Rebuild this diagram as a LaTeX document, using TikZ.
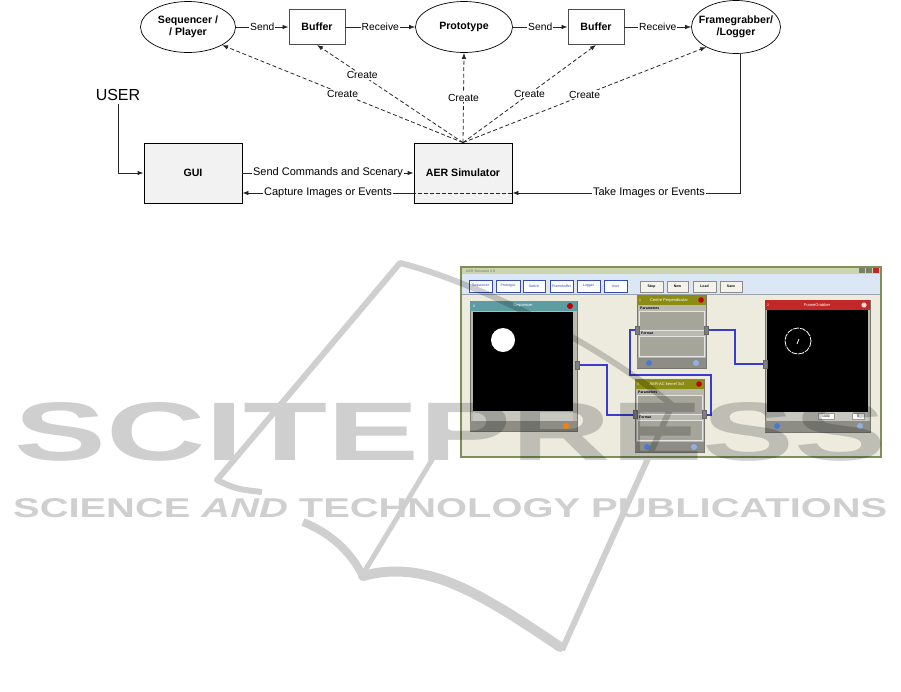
\documentclass[tikz,border=0pt]{standalone}
\usepackage{fontspec}
\setmainfont{Liberation Sans}
\usepackage[rgb]{xcolor}
\usepackage{graphicx}
\usepackage{tikz}
\usetikzlibrary{positioning,shapes.geometric,arrows.meta}

\definecolor{guigray}{HTML}{F2F2F2}
\definecolor{winframe}{HTML}{7E8F5C}
\definecolor{wintitle}{HTML}{CED4AE}
\definecolor{winbg}{HTML}{ECEBDE}
\definecolor{toolbar}{HTML}{DCE7F5}
\definecolor{btnblue}{HTML}{3A4BB0}
\definecolor{panelbody}{HTML}{B9B9B0}
\definecolor{panelframe}{HTML}{76766E}
\definecolor{panelbar}{HTML}{8D8D86}
\definecolor{seqteal}{HTML}{5C9CA2}
\definecolor{olivebar}{HTML}{8C8C12}
\definecolor{grabred}{HTML}{C22828}
\definecolor{wire}{HTML}{3C3CCC}
\definecolor{boxgray}{HTML}{A5A59A}
\definecolor{iconblue}{HTML}{4A7AD0}

\begin{document}
\begin{tikzpicture}[x=1pt, y=-1pt,
  proc/.style={ellipse, draw, line width=0.7pt, fill=white,
    minimum width=95pt, minimum height=51pt, inner xsep=-14pt, inner ysep=0pt,
    align=center, font=\bfseries\fontsize{10.6}{12}\selectfont},
  buf/.style={rectangle, draw=black!70, line width=0.9pt, fill=white,
    minimum width=56pt, minimum height=35pt,
    font=\bfseries\fontsize{10.6}{12}\selectfont},
  block/.style={rectangle, draw, line width=0.8pt, fill=guigray,
    minimum width=98pt, minimum height=60pt,
    font=\bfseries\fontsize{10.6}{12}\selectfont},
  flow/.style={-{Latex[length=6pt,width=4.5pt]}, line width=0.8pt, black!85},
  create/.style={flow, dash pattern=on 4pt off 2.5pt},
  lbl/.style={fill=white, inner sep=1pt, text=black, font=\fontsize{10.3}{11}\selectfont},
  biglbl/.style={lbl, font=\fontsize{11}{12}\selectfont},
  scrtxt/.style={inner sep=0pt, font=\fontsize{3.5}{4}\selectfont},
  panel/.style={fill=panelbody, draw=panelframe, line width=0.7pt},
  port/.style={fill=gray, draw=black!60, line width=0.3pt},
  wirecol/.style={wire, line width=1.2pt}]

\useasboundingbox (0,0) rectangle (901,691);

% top row: processes and buffers
\node[proc] (seq) at (188,27) {Sequencer /\\/ Player};
\node[buf] (bufa) at (317,27) {Buffer};
\node[proc, minimum width=97pt] (proto) at (464,27) {Prototype};
\node[buf] (bufb) at (596,27) {Buffer};
\node[proc, minimum width=89pt, minimum height=53pt] (fg) at (736,27) {Framegrabber/\\/Logger};

\draw[flow] (seq) -- node[lbl] {Send} (bufa);
\draw[flow] (bufa) -- node[lbl] {Receive} (proto);
\draw[flow] (proto) -- node[lbl] {Send} (bufb);
\draw[flow] (bufb) -- node[lbl] {Receive} (fg);

% bottom row
\node[font=\fontsize{16}{18}\selectfont] (user) at (118,95) {USER};
\node[block] (gui) at (193,173) {GUI};
\node[block] (aer) at (463,173) {AER Simulator};

\draw[flow] (user.south) |- (gui.west);
\draw[flow] (gui.east) -- node[biglbl] {Send Commands and Scenary} (aer.west);
\draw[flow] ([xshift=4pt]fg.south) |- node[biglbl, pos=0.7] {Take Images or Events}
  ([yshift=-20pt]aer.east);
\draw[black!85, line width=0.7pt, dash pattern=on 4pt off 2pt]
  ([yshift=-20pt]aer.east) -- ([yshift=-20pt]aer.west);
\draw[flow] ([yshift=-20pt]aer.west) -- node[biglbl] {Capture Images or Events}
  ([yshift=-20pt]gui.east);

% create arrows out of the simulator
\draw[create] (aer.north) -- node[lbl] {Create} (seq.-28);
\draw[create] (aer.north) -- node[lbl, pos=0.69] {Create} (bufa.south);
\draw[create] (aer.north) -- node[lbl] {Create} (proto.south);
\draw[create] (aer.north) -- node[lbl] {Create} (bufb.south);
\draw[create] (aer.north) -- node[lbl] {Create} (fg.214);

% screenshot of the simulator window
\draw[winframe, line width=1.2pt, fill=winbg] (461,267) rectangle (881,457);
\fill[wintitle] (461.6,267.6) rectangle (880.4,274);
\node[scrtxt, anchor=west, text=black!55] (wintxt) at (466,270.8) {AER Simulator 2.0};
\foreach \bx/\bc in {859/wintitle!60!black, 866/wintitle!60!black, 873/grabred}
  \fill[\bc] (\bx,268.4) rectangle ++(6,5);
\fill[toolbar] (461.6,274) rectangle (880.4,294);
\draw[toolbar!70!black] (461.6,294) -- (880.4,294);

\foreach \xa/\xb/\txt in {469/492/Sequencer, 496/520/Prototype, 523/545/Switch,
    550/573/Framebuffer, 577/600/Logger, 604/627/User}
  {
    \draw[btnblue, fill=white!90!toolbar, line width=0.8pt] (\xa,280) rectangle (\xb,292);
    \node[scrtxt, text=btnblue] at ({(\xa+\xb)/2},286) {\txt};
  }
\foreach \xa/\xb/\txt in {640/663/Stop, 667/688/New, 693/716/Load, 720/742/Save}
  {
    \draw[black!45, fill=winbg!60!white, line width=0.6pt] (\xa,281) rectangle (\xb,292);
    \node[scrtxt, font=\bfseries\fontsize{3.5}{4}\selectfont] at ({(\xa+\xb)/2},286.5) {\txt};
  }

% wires between the blocks
\draw[wirecol] (577,365) -- (607,365) -- (607,415) -- (635,415);
\draw[wirecol] (637,330) -- (630,330) -- (630,375) -- (711,375) -- (711,415) -- (704,415);
\draw[wirecol] (705,330) -- (735,330) -- (735,364) -- (765,364);

% sequencer block
\draw[panel] (470,301) rectangle (577,431);
\fill[seqteal] (470,301) rectangle (577,311);
\node[scrtxt, text=white] at (474,306) {0};
\node[scrtxt, text=white, font=\fontsize{4}{5}\selectfont] (seqtitle) at (523,306) {Sequencer};
\fill[red!75!black] (570,306) circle [radius=3];
\fill[black] (473,312) rectangle (573,411);
\fill[white] (503,340) circle [radius=12];
\fill[panelbody!80!white] (473,411) rectangle (573,421);
\fill[panelbar] (470.4,421) rectangle (576.6,430.6);
\fill[orange!85!brown] (566,426) circle [radius=3];
\draw[port] (575,361) rectangle (579,369);

% filter blocks
\foreach \px/\py/\ttl/\num in {637/295/Centre Perpendicular/1, 635/379/AER-AC kernel 3x3/3}
  {
    \draw[panel] (\px,\py) rectangle ({\px+69},{\py+73});
    \fill[olivebar] (\px,\py) rectangle ({\px+69},{\py+10});
    \node[scrtxt, text=white] at ({\px+3},{\py+5}) {\num};
    \node[scrtxt, text=white, font=\fontsize{4}{5}\selectfont] at ({\px+32},{\py+5}) {\ttl};
    \fill[red!75!black] ({\px+64},{\py+5}) circle [radius=2.8];
    \node[scrtxt, anchor=west, font=\bfseries\fontsize{3.5}{4}\selectfont] at ({\px+3},{\py+13}) {Parameters};
    \draw[boxgray, fill=boxgray, draw=white!80!gray] ({\px+2},{\py+16}) rectangle ({\px+67},{\py+35});
    \node[scrtxt, anchor=west, font=\bfseries\fontsize{3.5}{4}\selectfont] at ({\px+4},{\py+38.5}) {Format};
    \draw[boxgray, fill=boxgray, draw=white!80!gray] ({\px+2},{\py+41}) rectangle ({\px+67},{\py+61});
    \fill[panelbar] ({\px+0.4},{\py+63}) rectangle ({\px+68.6},{\py+72.6});
    \fill[iconblue] ({\px+12},{\py+68}) circle [radius=3];
    \fill[iconblue!60!white] ({\px+59},{\py+68}) circle [radius=3];
    \draw[port] ({\px-2},{\py+31}) rectangle ({\px+2},{\py+39});
    \draw[port] ({\px+67},{\py+31}) rectangle ({\px+71},{\py+39});
  }

% framegrabber block
\draw[panel] (765,300) rectangle (870,432);
\fill[grabred] (765,300) rectangle (870,310);
\node[scrtxt, text=white] at (768,305) {2};
\node[scrtxt, text=white, font=\fontsize{4}{5}\selectfont] (fgtitle) at (817,305) {FrameGrabber};
\fill[white!85!red] (864,305) circle [radius=2.6];
\fill[black] (767,310) rectangle (868,412);
\draw[white, line width=0.8pt, dash pattern=on 6pt off 1pt] (798,341) circle [radius=13];
\draw[white, line width=0.8pt] (797,344) -- (799,339);
\fill[panelbody!80!white] (767,412) rectangle (868,421);
\draw[black!40, fill=white] (818,413.5) rectangle (834,419.5);
\node[scrtxt] at (826,416.5) {1000};
\draw[black!40, fill=white] (852,413.5) rectangle (864,419.5);
\node[scrtxt] at (858,416.5) {0};
\fill[panelbar] (765.4,421) rectangle (869.6,431.6);
\fill[iconblue] (777,426) circle [radius=3];
\fill[iconblue!60!white] (860,426) circle [radius=3];
\draw[port] (763,360) rectangle (767,368);

% watermark over the lower half
\begin{scope}[transparency group, opacity=0.19]
  \draw[line width=6pt, line join=round]
    (262,492) .. controls (236,489) .. (217,480) -- (400,263)
    .. controls (480,283) and (600,345) .. (672,405) -- (562,650);
  \draw[line width=5pt] (450,430) -- (363,574);
  \draw[line width=8pt] (303,522) .. controls (335,535) and (352,555) .. (363,576);
  \draw[line width=10pt, line cap=round]
    (363,576) .. controls (420,560) and (470,590) .. (510,614)
    .. controls (535,630) and (550,640) .. (560,647);
  \node[anchor=north west, inner sep=0pt] (scitepress) at (14,402)
    {\resizebox{872pt}{58pt}{\bfseries SCITEPRESS}};
  \node[anchor=north west, inner sep=0pt] (publications) at (13,498)
    {\resizebox{874pt}{19pt}{\bfseries SCIENCE \textit{AND} TECHNOLOGY PUBLICATIONS}};
\end{scope}

\end{tikzpicture}
\end{document}
